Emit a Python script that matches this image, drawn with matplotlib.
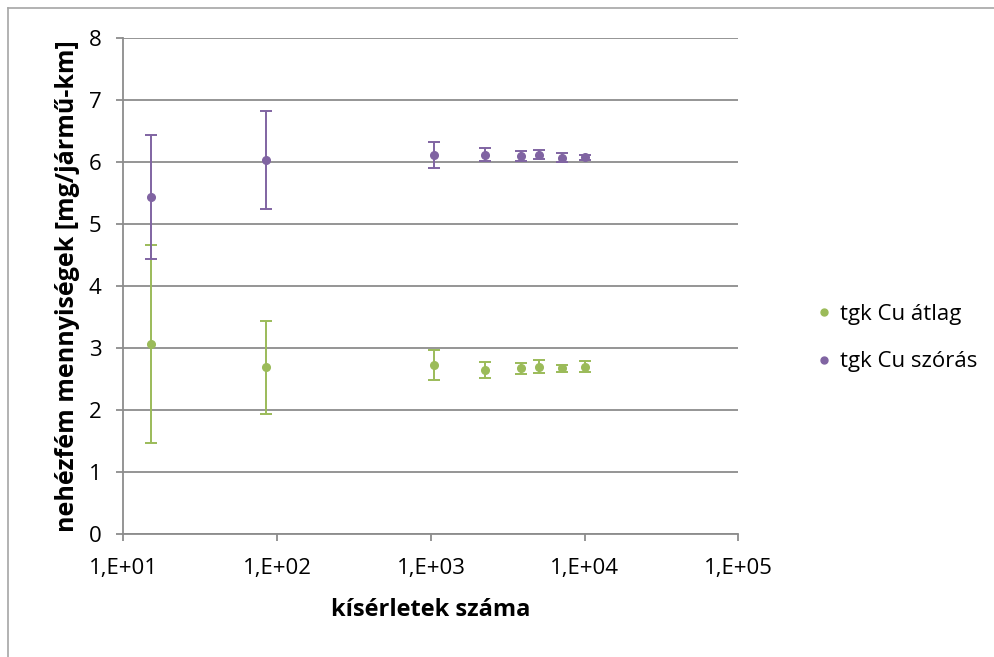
import matplotlib
matplotlib.use("Agg")
import matplotlib.pyplot as plt
from matplotlib.lines import Line2D
from matplotlib.ticker import FixedLocator, FixedFormatter, NullLocator

plt.rcParams['font.family'] = ['Open Sans', 'DejaVu Sans']

# Data
x_vals = [15, 85, 1050, 2250, 3870, 5060, 7060, 10000]
atlag_y = [3.06, 2.69, 2.72, 2.65, 2.67, 2.70, 2.67, 2.70]
atlag_err = [1.60, 0.75, 0.24, 0.13, 0.09, 0.10, 0.055, 0.085]
szoras_y = [5.44, 6.03, 6.12, 6.12, 6.09, 6.12, 6.07, 6.08]
szoras_err = [1.00, 0.79, 0.21, 0.10, 0.08, 0.075, 0.07, 0.04]
series_names = ["tgk Cu átlag", "tgk Cu szórás"]
x_tick_vals = [1e1, 1e2, 1e3, 1e4, 1e5]
x_tick_labels = ["1,E+01", "1,E+02", "1,E+03", "1,E+04", "1,E+05"]
y_ticks = [0, 1, 2, 3, 4, 5, 6, 7, 8]

green = "#9BBB59"
purple = "#8064A2"
grid_c = "#8C8C8C"

W, H = 995, 657
fig = plt.figure(figsize=(W / 100, H / 100), dpi=100)
ax = fig.add_axes([123.5 / W, 1 - 534 / H, (738.5 - 123.5) / W, (534 - 38) / H])

ax.set_xscale('log')
ax.set_xlim(1e1, 1e5)
ax.set_ylim(0, 8)

for y, e, c in [(atlag_y, atlag_err, green), (szoras_y, szoras_err, purple)]:
    ax.errorbar(x_vals, y, yerr=e, fmt='o', color=c, ecolor=c, markersize=5.5,
                elinewidth=1.4, capsize=4.5, capthick=1.4, zorder=3)

ax.xaxis.set_major_locator(FixedLocator(x_tick_vals))
ax.xaxis.set_major_formatter(FixedFormatter(x_tick_labels))
ax.xaxis.set_minor_locator(NullLocator())
ax.set_yticks(y_ticks)
ax.set_yticklabels([str(v) for v in y_ticks])

ax.yaxis.grid(True, color=grid_c, linewidth=1.3, zorder=0)
ax.set_axisbelow(True)
for s in ['top', 'right']:
    ax.spines[s].set_visible(False)
for s in ['left', 'bottom']:
    ax.spines[s].set_color(grid_c)
    ax.spines[s].set_linewidth(1.3)
ax.tick_params(axis='both', colors=grid_c, labelcolor='black', labelsize=16,
               length=5, width=1.3)
ax.tick_params(axis='x', pad=12)
ax.tick_params(axis='y', pad=11)

ax.set_xlabel("kísérletek száma", fontsize=17, fontweight='bold', labelpad=14)
ax.set_ylabel("nehézfém mennyiségek [mg/jármű-km]", fontsize=18, fontweight='bold', labelpad=6)

handles = [Line2D([], [], marker='o', linestyle='none', color=green, markersize=5),
           Line2D([], [], marker='o', linestyle='none', color=purple, markersize=5)]
fig.legend(handles, series_names, loc='center left', bbox_to_anchor=(793 / W, 1 - 338 / H),
           frameon=False, fontsize=16, handletextpad=0.2, labelspacing=1.2, handlelength=1.0)

# outer chart border (left and top visible)
fig.add_artist(Line2D([8 / W, 8 / W], [0, 1 - 8 / H], transform=fig.transFigure,
                      color="#A6A6A6", linewidth=1.2))
fig.add_artist(Line2D([8 / W, 1], [1 - 8 / H, 1 - 8 / H], transform=fig.transFigure,
                      color="#A6A6A6", linewidth=1.2))

fig.savefig("out.png", dpi=100, facecolor='white')
